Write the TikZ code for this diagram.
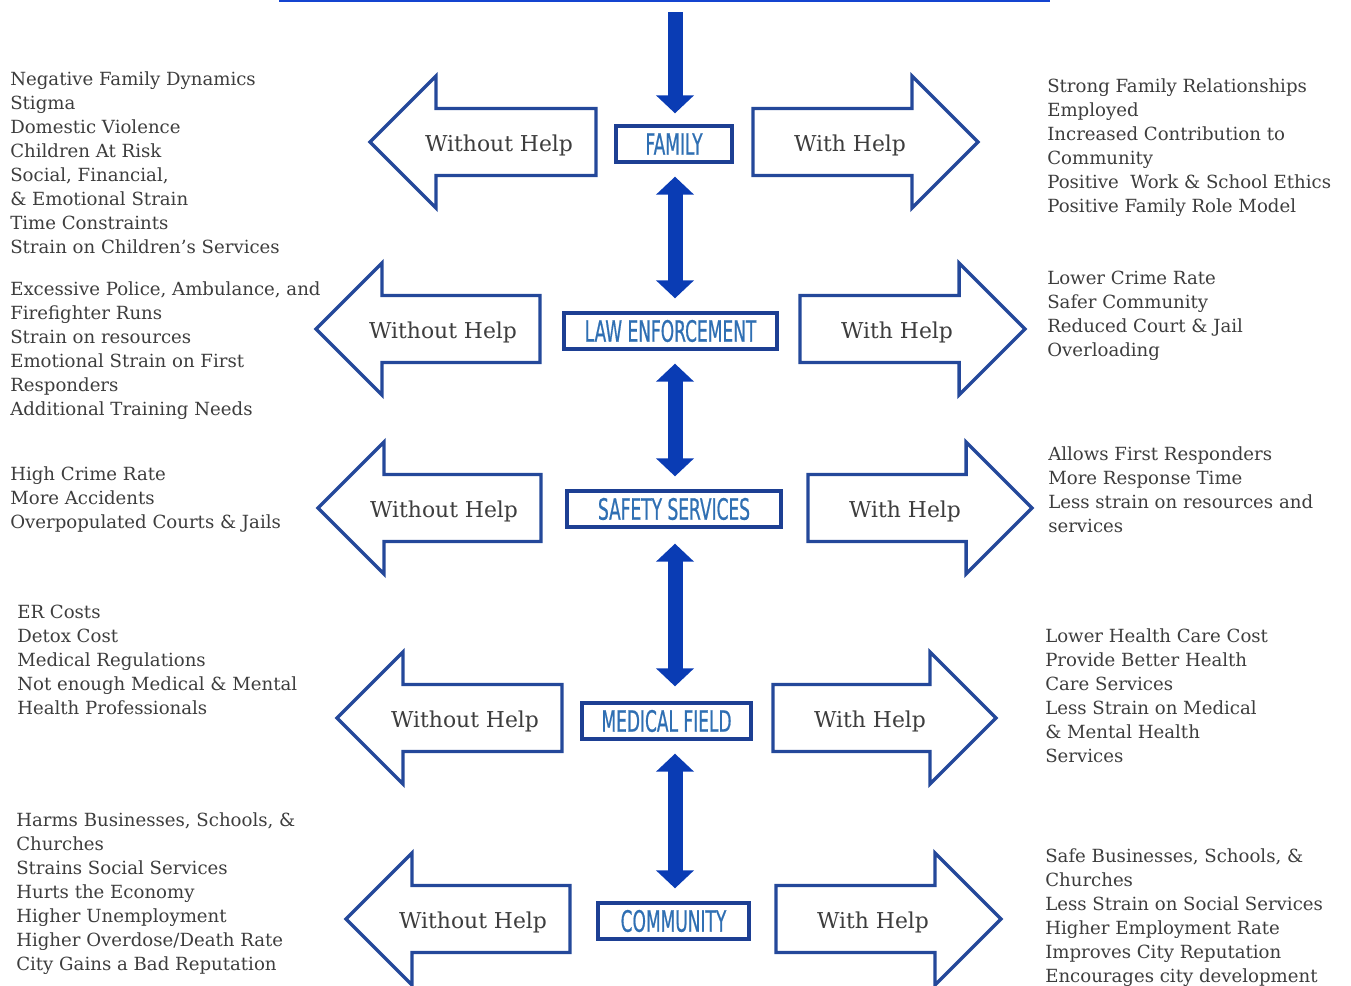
\documentclass[tikz,border=0pt]{standalone}
\usepackage{fontspec}
\setmainfont{DejaVu Serif}
\newfontfamily\boxfont[FakeStretch=0.58,FakeBold=0.6]{DejaVu Sans}
\usepackage{xcolor}
\definecolor{txt_gray}{HTML}{3D3D3D}
\definecolor{box_blue}{HTML}{1D3F93}
\definecolor{lbl_blue}{HTML}{2F6FB3}
\definecolor{arw_blue}{HTML}{24489A}
\definecolor{bar_blue}{HTML}{0A3CB4}
\definecolor{top_blue}{HTML}{1444D0}
\usetikzlibrary{arrows.meta}

\begin{document}
\begin{tikzpicture}[x=0.75pt,y=-0.75pt,
    catbox/.style={draw=box_blue,line width=3pt,fill=white,minimum height=27pt,inner xsep=4pt,
      text=lbl_blue,font=\boxfont\fontsize{22}{22}\selectfont},
    helptext/.style={text=txt_gray,font=\fontsize{16.4}{16.4}\selectfont},
    listtext/.style={anchor=north west,inner sep=0pt,align=left,text=txt_gray,
      font=\fontsize{13.6}{18}\selectfont,execute at begin node=\strut},
    blockarrow/.style={draw=arw_blue,line width=2.6pt,line join=miter},
    vbar/.style={bar_blue,line width=11.25pt,>={Triangle[width=27.75pt,length=13.5pt]},
      shorten <=9.5pt,shorten >=9.5pt}]
  \useasboundingbox (0,0) rectangle (1351,985);
  \draw[top_blue,line width=1.5pt] (279,1)--(1050,1); %上の線
  %中央の箱
  \coordinate (top) at (675,12);
  \node[catbox,minimum width=87pt] (fam) at (674,144) {FAMILY};
  \node[catbox,minimum width=159.75pt] (law) at (670.5,331) {LAW ENFORCEMENT};
  \node[catbox,minimum width=160.5pt] (safe) at (674,509) {SAFETY SERVICES};
  \node[catbox,minimum width=126.75pt] (med) at (666.5,721) {MEDICAL FIELD};
  \node[catbox,minimum width=113.25pt] (comm) at (673.5,921) {COMMUNITY};
  %縦の矢印
  \draw[vbar,->,shorten <=0pt,shorten >=8pt] (top)--(fam.north -| top);
  \draw[vbar,<->] (fam.south -| top)--(law.north -| top);
  \draw[vbar,<->] (law.south -| top)--(safe.north -| top);
  \draw[vbar,<->,shorten <=11pt,shorten >=11pt] (safe.south -| top)--(med.north -| top);
  \draw[vbar,<->] (med.south -| top)--(comm.north -| top);
  %左右の矢印
  \foreach \yc/\lt/\ls/\rs/\rt [count=\i] in {142/370/596/753/978, 329/316/540/800/1025,
      508/318/541/808/1032, 718/337/562/773/996, 919/346/570/776/1001}{
    \draw[blockarrow] (\ls,{\yc-33.5})--({\lt+66},{\yc-33.5})--({\lt+66},{\yc-66})--(\lt,\yc)
      --({\lt+66},{\yc+66})--({\lt+66},{\yc+33.5})--(\ls,{\yc+33.5})--cycle;
    \draw[blockarrow] (\rs,{\yc-33.5})--({\rt-66},{\yc-33.5})--({\rt-66},{\yc-66})--(\rt,\yc)
      --({\rt-66},{\yc+66})--({\rt-66},{\yc+33.5})--(\rs,{\yc+33.5})--cycle;
    \node[helptext] (wo\i) at ({\ls-97},{\yc+3}) {Without Help};
    \node[helptext] (w\i) at ({\rs+97},{\yc+3}) {With Help};
  }
  %左の説明
  \node[listtext] (famL) at (10,71.7) {Negative Family Dynamics\\Stigma\\Domestic Violence\\
    Children At Risk\\Social, Financial,\\\& Emotional Strain\\Time Constraints\\
    Strain on Children's Services};
  \node[listtext] (lawL) at (10,281.7) {Excessive Police, Ambulance, and\\Firefighter Runs\\
    Strain on resources\\Emotional Strain on First\\Responders\\Additional Training Needs};
  \node[listtext] (safeL) at (10,466.7) {High Crime Rate\\More Accidents\\
    Overpopulated Courts \& Jails};
  \node[listtext] (medL) at (17,604.7) {ER Costs\\Detox Cost\\Medical Regulations\\
    Not enough Medical \& Mental\\Health Professionals};
  \node[listtext] (commL) at (16,812.7) {Harms Businesses, Schools, \&\\Churches\\
    Strains Social Services\\Hurts the Economy\\Higher Unemployment\\
    Higher Overdose/Death Rate\\City Gains a Bad Reputation};
  %右の説明
  \node[listtext] (famR) at (1047,78.7) {Strong Family Relationships\\Employed\\
    Increased Contribution to\\Community\\Positive~ Work \& School Ethics\\
    Positive Family Role Model};
  \node[listtext] (lawR) at (1047,270.7) {Lower Crime Rate\\Safer Community\\
    Reduced Court \& Jail\\Overloading};
  \node[listtext] (safeR) at (1048,446.7) {Allows First Responders\\More Response Time\\
    Less strain on resources and\\services};
  \node[listtext] (medR) at (1045,628.7) {Lower Health Care Cost\\Provide Better Health\\
    Care Services\\Less Strain on Medical\\\& Mental Health\\Services};
  \node[listtext] (commR) at (1045,848.7) {Safe Businesses, Schools, \&\\Churches\\
    Less Strain on Social Services\\Higher Employment Rate\\Improves City Reputation\\
    Encourages city development};
\end{tikzpicture}
\end{document}
